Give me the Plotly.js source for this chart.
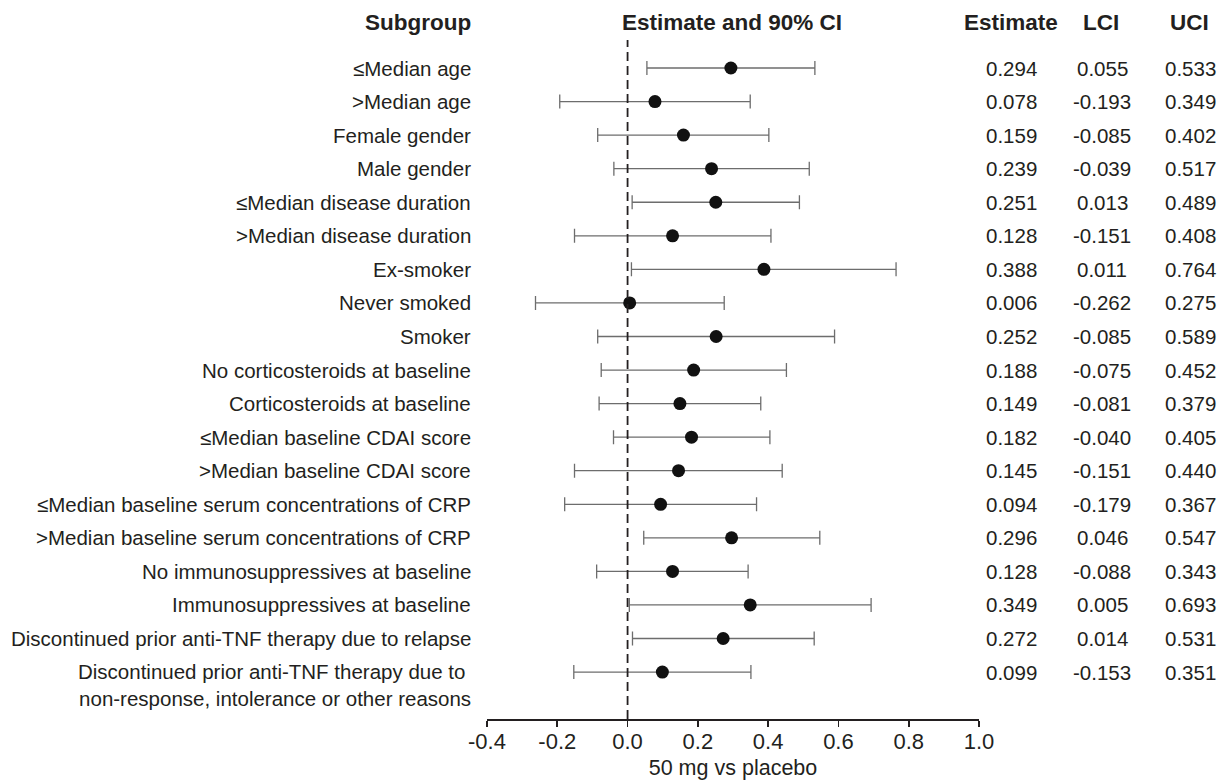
<!DOCTYPE html>
<html>
<head>
<meta charset="utf-8">
<script src="https://cdn.plot.ly/plotly-3.0.1.min.js"></script>
<style>html,body{margin:0;padding:0;background:#fff;}#chart{width:1225px;height:781px;}</style>
</head>
<body>
<div id="chart"></div>
<script>
const subgroups = [
  "≤Median age",
  ">Median age",
  "Female gender",
  "Male gender",
  "≤Median disease duration",
  ">Median disease duration",
  "Ex-smoker",
  "Never smoked",
  "Smoker",
  "No corticosteroids at baseline",
  "Corticosteroids at baseline",
  "≤Median baseline CDAI score",
  ">Median baseline CDAI score",
  "≤Median baseline serum concentrations of CRP",
  ">Median baseline serum concentrations of CRP",
  "No immunosuppressives at baseline",
  "Immunosuppressives at baseline",
  "Discontinued prior anti-TNF therapy due to relapse",
  "Discontinued prior anti-TNF therapy due to <br>non-response, intolerance or other reasons"
];
const estimate = [0.294, 0.078, 0.159, 0.239, 0.251, 0.128, 0.388, 0.006, 0.252, 0.188, 0.149, 0.182, 0.145, 0.094, 0.296, 0.128, 0.349, 0.272, 0.099];
const lci = [0.055, -0.193, -0.085, -0.039, 0.013, -0.151, 0.011, -0.262, -0.085, -0.075, -0.081, -0.040, -0.151, -0.179, 0.046, -0.088, 0.005, 0.014, -0.153];
const uci = [0.533, 0.349, 0.402, 0.517, 0.489, 0.408, 0.764, 0.275, 0.589, 0.452, 0.379, 0.405, 0.440, 0.367, 0.547, 0.343, 0.693, 0.531, 0.351];
const xTicks = [-0.4, -0.2, 0.0, 0.2, 0.4, 0.6, 0.8, 1.0];
const xTickText = ["-0.4", "-0.2", "0.0", "0.2", "0.4", "0.6", "0.8", "1.0"];
const headers = ["Subgroup", "Estimate and 90% CI", "Estimate", "LCI", "UCI"];

const rows = subgroups.map((_, i) => i);
const fmt = v => v.toFixed(3);
const FONT = "Liberation Sans, Arial, Helvetica, sans-serif";
const TXT = "#231f20";

// plot geometry (pixels)
const W = 1225, H = 781;
const L = 487, R = 979, T = 40, B = 719;
const rowTop = 68, rowStep = 33.56;
const yTop = (T - rowTop) / rowStep;
const yBot = (B - rowTop) / rowStep;
const px2paper = p => (p - L) / (R - L);
const py2paperY = p => (B - p) / (B - T);

const trace = {
  type: "scatter",
  mode: "markers",
  x: estimate,
  y: rows,
  marker: {color: "#111", size: 13},
  error_x: {
    type: "data",
    symmetric: false,
    array: uci.map((u, i) => u - estimate[i]),
    arrayminus: lci.map((l, i) => estimate[i] - l),
    color: "#6d6d6d",
    thickness: 1.3,
    width: 7
  },
  hoverinfo: "skip",
  cliponaxis: false
};

const annotations = [];
subgroups.forEach((s, i) => {
  const multi = s.indexOf("<br>") >= 0;
  annotations.push({
    xref: "paper", yref: "y", x: px2paper(473), y: i,
    text: s, showarrow: false, xanchor: "right", align: "right",
    yanchor: multi ? "top" : "middle", yshift: multi ? 14 : 0,
    font: {family: FONT, size: 20.5, color: TXT}
  });
  [[estimate, 1011], [lci, 1102], [uci, 1190]].forEach(([arr, xp]) => {
    annotations.push({
      xref: "paper", yref: "y", x: px2paper(xp), y: i,
      text: fmt(arr[i]), showarrow: false, xanchor: "center",
      yanchor: "middle",
      font: {family: FONT, size: 20.5, color: TXT}
    });
  });
});
const headerPos = [[473, "right"], [732, "center"], [1011, "center"], [1101, "center"], [1189, "center"]];
headers.forEach((h, k) => {
  annotations.push({
    xref: "paper", yref: "paper", x: px2paper(headerPos[k][0]), y: py2paperY(22),
    text: "<b>" + h + "</b>", showarrow: false, xanchor: headerPos[k][1], yanchor: "middle",
    font: {family: FONT, size: 22.5, color: TXT}
  });
});

const layout = {
  width: W, height: H,
  paper_bgcolor: "#ffffff", plot_bgcolor: "#ffffff",
  margin: {l: L, r: W - R, t: T, b: H - B, pad: 0},
  showlegend: false,
  xaxis: {
    range: [-0.4, 1.0],
    tickvals: xTicks, ticktext: xTickText,
    showgrid: false, zeroline: false,
    showline: true, linecolor: "#231f20", linewidth: 1.6,
    ticks: "outside", ticklen: 6, tickwidth: 1.6, tickcolor: "#231f20",
    ticklabelstandoff: -4,
    tickfont: {family: FONT, size: 22, color: TXT},
    title: {text: "50 mg vs placebo", font: {family: FONT, size: 21.5, color: TXT}, standoff: 7},
    fixedrange: true
  },
  yaxis: {
    range: [yBot, yTop],
    showgrid: false, zeroline: false, showline: false,
    showticklabels: false, ticks: "",
    fixedrange: true
  },
  shapes: [{
    type: "line", xref: "x", yref: "paper", x0: 0, x1: 0, y0: 0, y1: 1,
    line: {color: "#231f20", width: 1.8, dash: "9px,5px"}
  }],
  annotations: annotations
};

Plotly.newPlot("chart", [trace], layout, {displayModeBar: false, staticPlot: true});
</script>
</body>
</html>
